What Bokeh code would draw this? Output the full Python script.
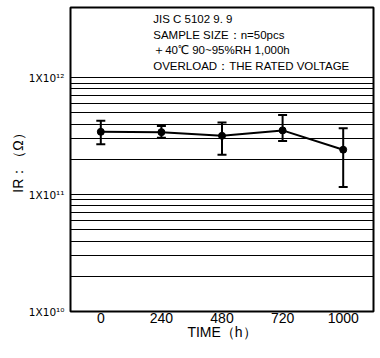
from bokeh.plotting import figure
from bokeh.models import (ColumnDataSource, FactorRange, Range1d, FixedTicker,
                          Whisker, TeeHead, Label)
from bokeh.embed import file_html
from bokeh.resources import INLINE

# Insulation resistance during humidity test
times = ["0", "240", "480", "720", "1000"]
ir_mean = [3.44e11, 3.42e11, 3.18e11, 3.54e11, 2.42e11]
ir_max = [4.27e11, 3.85e11, 4.14e11, 4.80e11, 3.70e11]
ir_min = [2.70e11, 3.06e11, 2.19e11, 2.87e11, 1.16e11]

y_ticks = [1e10, 1e11, 1e12]
y_tick_labels = ["1X10¹⁰", "1X10¹¹", "1X10¹²"]
y_minor = [m * d for d in (1e10, 1e11) for m in range(2, 10)]

notes = [
    "JIS C 5102 9. 9",
    "SAMPLE SIZE：n=50pcs",
    "＋40℃ 90~95%RH  1,000h",
    "OVERLOAD：THE RATED VOLTAGE",
]

FONT = "Liberation Sans"

src = ColumnDataSource(dict(t=times, m=ir_mean, hi=ir_max, lo=ir_min))

p = figure(width=380, height=358, output_backend="svg", toolbar_location=None,
           x_range=FactorRange(factors=times), y_axis_type="log",
           y_range=Range1d(1e10, 10 ** 12.6),
           min_border_left=70, min_border_right=7, min_border_top=7,
           min_border_bottom=47)

p.outline_line_color = "black"
p.outline_line_width = 2
p.background_fill_color = "white"
p.border_fill_color = "white"

# grid: decades plus minor lines between 1e10 and 1e12 only
p.xgrid.grid_line_color = None
p.ygrid.ticker = FixedTicker(ticks=y_ticks, minor_ticks=y_minor)
p.ygrid.grid_line_color = "black"
p.ygrid.grid_line_width = 1
p.ygrid.minor_grid_line_color = "black"
p.ygrid.minor_grid_line_width = 1

for ax in (p.xaxis[0], p.yaxis[0]):
    ax.axis_line_color = None
    ax.major_tick_line_color = None
    ax.minor_tick_line_color = None
    ax.major_tick_out = 0
    ax.major_tick_in = 0
    ax.minor_tick_out = 0
    ax.major_label_text_font = FONT
    ax.major_label_text_font_size = "14px"
    ax.major_label_text_color = "black"
    ax.axis_label_text_font = FONT
    ax.axis_label_text_font_size = "14px"
    ax.axis_label_text_font_style = "normal"
    ax.axis_label_text_color = "black"

p.yaxis.ticker = FixedTicker(ticks=y_ticks)
p.yaxis.major_label_overrides = {t: s for t, s in zip(y_ticks, y_tick_labels)}
p.yaxis.major_label_text_font = "DejaVu Sans"
p.yaxis.major_label_text_font_size = "10.5px"
p.yaxis.major_label_standoff = 6
p.yaxis.axis_label = "IR：（Ω）"
p.yaxis.axis_label_standoff = 0

p.xaxis.major_label_standoff = 1
p.xaxis.axis_label = "TIME（h）"
p.xaxis.axis_label_standoff = -2

# error bars
p.add_layout(Whisker(source=src, base="t", upper="hi", lower="lo",
                     line_color="black", line_width=2,
                     upper_head=TeeHead(size=9, line_color="black", line_width=2),
                     lower_head=TeeHead(size=9, line_color="black", line_width=2)))

p.line("t", "m", source=src, line_color="black", line_width=2)
p.scatter("t", "m", source=src, size=7, color="black")

# test condition notes
note_y = [10 ** 12.505, 10 ** 12.369, 10 ** 12.233, 10 ** 12.096]
for txt, yy in zip(notes, note_y):
    p.add_layout(Label(x=1.365, y=yy, text=txt, text_font=FONT,
                       text_font_size="11.5px", text_color="black",
                       text_baseline="middle", text_align="left"))

open("out.html", "w").write(file_html(p, INLINE))
